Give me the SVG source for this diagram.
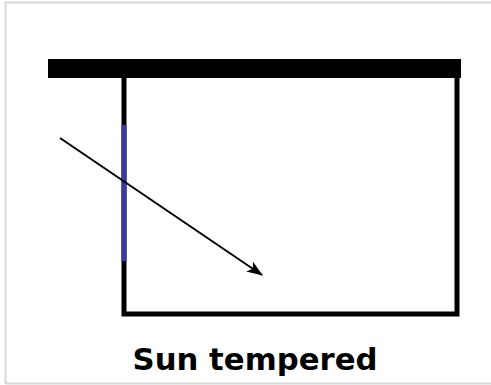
<svg xmlns="http://www.w3.org/2000/svg" width="491" height="385" viewBox="0 0 491 385">
<style>
.frame{fill:none;stroke:#d8d8d8;stroke-width:2}
.wall{fill:none;stroke:#000;stroke-width:5}
.glass{stroke:#3a3aa0;stroke-width:5}
.ray{stroke:#000;stroke-width:2;fill:none}
.label{font-family:"Comic Sans MS","DejaVu Sans",sans-serif;font-weight:bold;font-size:31px;fill:#000}
</style>
<defs>
<marker id="ah" markerWidth="16" markerHeight="12" refX="15" refY="6" orient="auto" markerUnits="userSpaceOnUse">
<path d="M0,0 L16,6 L0,12 L4,6 Z" fill="#000"/>
</marker>
</defs>
<rect width="491" height="385" fill="#fff"/>
<path class="frame" d="M5.5,384 V2.5 H491 M5.5,383.5 H491"/>
<g id="roof"><rect x="48" y="59" width="413" height="19" fill="#000"/></g>
<g id="room">
<path class="wall" d="M124,78 V314 H457 V78"/>
<line class="glass" x1="124" y1="125" x2="124" y2="261"/>
</g>
<g id="connectors">
<line class="ray" x1="60" y1="138" x2="262" y2="275" marker-end="url(#ah)"/>
</g>
<g id="caption"><text class="label" x="255" y="370" text-anchor="middle" textLength="245" lengthAdjust="spacingAndGlyphs">Sun tempered</text></g>
</svg>
